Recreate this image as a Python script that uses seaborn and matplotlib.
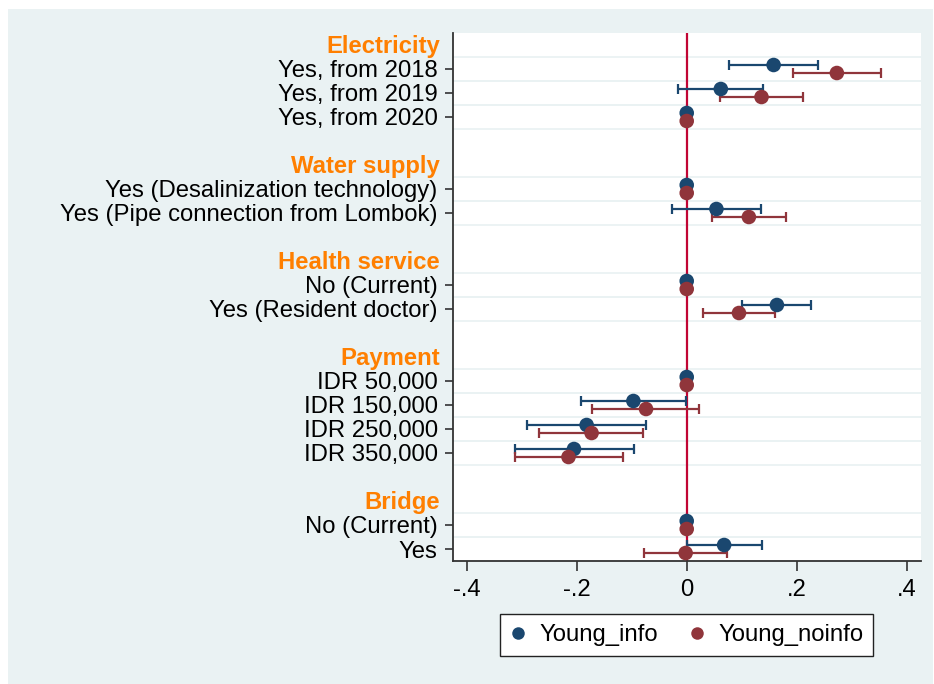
import numpy as np
import pandas as pd
import matplotlib
matplotlib.use("Agg")
import matplotlib.pyplot as plt
from matplotlib.patches import Rectangle
from matplotlib.lines import Line2D
import seaborn as sns

nan = np.nan

# Attribute groups and their levels
groups = ["Electricity", "Water supply", "Health service", "Payment", "Bridge"]
levels = [
    ["Yes, from 2018", "Yes, from 2019", "Yes, from 2020"],
    ["Yes (Desalinization technology)", "Yes (Pipe connection from Lombok)"],
    ["No (Current)", "Yes (Resident doctor)"],
    ["IDR 50,000", "IDR 150,000", "IDR 250,000", "IDR 350,000"],
    ["No (Current)", "Yes"],
]
series = ["Young_info", "Young_noinfo"]

# Coefficients and 95% confidence bounds, one entry per level (in order)
info_coef = [0.158, 0.062, 0.0, 0.0, 0.054, 0.0, 0.164, 0.0, -0.097, -0.182, -0.205, 0.0, 0.068]
info_lo = [0.076, -0.015, nan, nan, -0.027, nan, 0.100, nan, -0.193, -0.291, -0.313, nan, 0.000]
info_hi = [0.238, 0.138, nan, nan, 0.135, nan, 0.226, nan, -0.001, -0.074, -0.096, nan, 0.136]

noinfo_coef = [0.273, 0.136, 0.0, 0.0, 0.113, 0.0, 0.095, 0.0, -0.074, -0.173, -0.215, 0.0, -0.002]
noinfo_lo = [0.193, 0.061, nan, nan, 0.046, nan, 0.030, nan, -0.172, -0.268, -0.313, nan, -0.077]
noinfo_hi = [0.354, 0.211, nan, nan, 0.181, nan, 0.161, nan, 0.023, -0.079, -0.116, nan, 0.073]

x_ticks = [-0.4, -0.2, 0.0, 0.2, 0.4]
x_ticklabels = ["-.4", "-.2", "0", ".2", ".4"]

# Styling
BG = "#EAF2F3"
COLORS = {"Young_info": "#1A476F", "Young_noinfo": "#90353B"}
HEAD_COLOR = "#FF7F00"
REF_COLOR = "#C10534"
FONT = ["Liberation Sans", "DejaVu Sans"]
FS = 17.2

sns.set_theme(style="white")
plt.rcParams["font.family"] = FONT
plt.rcParams["text.color"] = "black"

# Row layout: header row, its levels, then one blank row
header_pos, row_pos, row_labels = [], [], []
pos = 0
for g, lv in zip(groups, levels):
    header_pos.append(pos)
    for j, name in enumerate(lv):
        row_pos.append(pos + 1 + j)
        row_labels.append(name)
    pos += len(lv) + 2

offset = {"Young_info": -0.167, "Young_noinfo": 0.167}
frames = []
for s, c, lo, hi in [("Young_info", info_coef, info_lo, info_hi),
                     ("Young_noinfo", noinfo_coef, noinfo_lo, noinfo_hi)]:
    frames.append(pd.DataFrame({
        "series": s,
        "ypos": np.array(row_pos) + offset[s],
        "coef": c, "lo": lo, "hi": hi,
    }))
df = pd.concat(frames, ignore_index=True)

W, H = 934, 684
fig = plt.figure(figsize=(W / 100, H / 100), dpi=100, facecolor="white")
fig.patches.append(Rectangle((8 / W, 0), (933 - 8) / W, (H - 9) / H,
                             transform=fig.transFigure, facecolor=BG,
                             edgecolor="none", zorder=-10))

ax = fig.add_axes([453 / W, (H - 561) / H, (921 - 453) / W, (561 - 33) / H])
ax.set_zorder(1)
ax.set_facecolor("white")

# Light separators around each coefficient row
for r in row_pos:
    for yy in (r - 0.5, r + 0.5):
        ax.axhline(yy, color=BG, lw=1.3, zorder=1)

ax.axvline(0, color=REF_COLOR, lw=1.6, zorder=2)

# Confidence intervals with end caps
for s in series:
    sub = df[(df["series"] == s) & df["lo"].notna()]
    ax.hlines(sub["ypos"], sub["lo"], sub["hi"], color=COLORS[s], lw=1.6, zorder=3)
    for col in ("lo", "hi"):
        ax.vlines(sub[col], sub["ypos"] - 0.21, sub["ypos"] + 0.21,
                  color=COLORS[s], lw=1.6, zorder=3)

for s in series:
    sns.scatterplot(data=df[df["series"] == s], x="coef", y="ypos", ax=ax,
                    color=COLORS[s], s=110, edgecolor="none", linewidth=0,
                    zorder=4, legend=False)

ax.set_xlim(-0.425, 0.426)
ax.set_ylim(pos - 1.5, -0.5)
ax.set_xlabel("")
ax.set_ylabel("")

ax.set_yticks(row_pos)
ax.set_yticklabels(row_labels, fontsize=FS, color="black")
ax.set_xticks(x_ticks)
ax.set_xticklabels(x_ticklabels, fontsize=FS, color="black")
ax.tick_params(axis="y", direction="out", length=6, width=1.2, color="#333333",
               pad=5, left=True)
ax.tick_params(axis="x", direction="out", length=7, width=1.2, color="#333333",
               pad=6, bottom=True)

for side in ("top", "right"):
    ax.spines[side].set_visible(False)
for side in ("left", "bottom"):
    ax.spines[side].set_color("#333333")
    ax.spines[side].set_linewidth(1.3)

for g, hp in zip(groups, header_pos):
    ax.annotate(g, xy=(0, hp + 0.08), xycoords=("axes fraction", "data"),
                xytext=(-13, 0), textcoords="offset pixels",
                ha="right", va="center", fontsize=FS, fontweight="bold",
                color=HEAD_COLOR, annotation_clip=False)

handles = [Line2D([], [], marker="o", linestyle="none", markersize=9,
                  markerfacecolor=COLORS[s], markeredgecolor="none", label=s)
           for s in series]
leg = fig.legend(handles=handles, loc="center", ncol=2,
                 bbox_to_anchor=(686.7 / W, (H - 635.3) / H),
                 fontsize=FS, frameon=True, fancybox=False, framealpha=1,
                 handletextpad=0.55, columnspacing=1.25, borderpad=0.42,
                 handlelength=0.7)
leg.get_frame().set_edgecolor("#222222")
leg.get_frame().set_linewidth(1.0)
leg.get_frame().set_facecolor("white")
for t in leg.get_texts():
    t.set_color("black")

fig.savefig("out.png", dpi=100, facecolor="white")
